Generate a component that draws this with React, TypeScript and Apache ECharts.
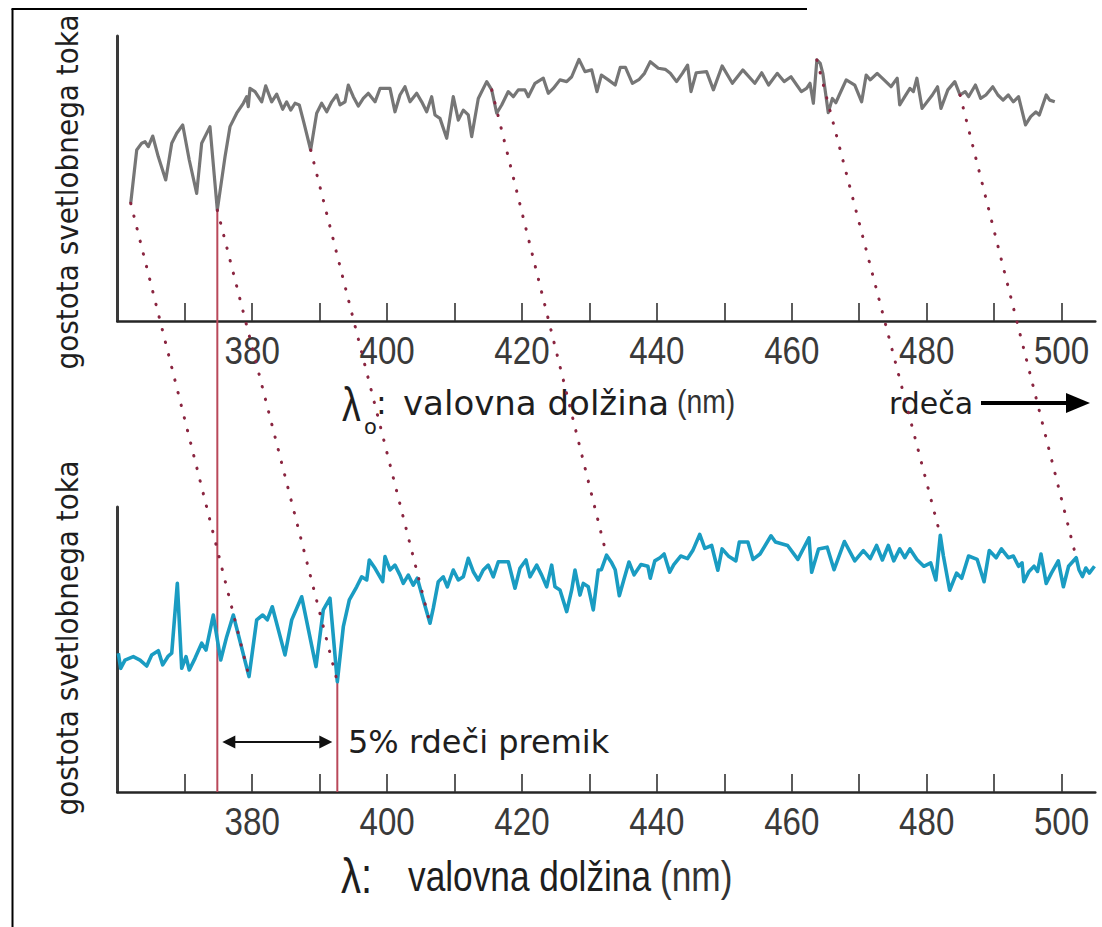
import React, { useEffect, useRef } from 'react';
import * as echarts from 'echarts';

// ---------- data ----------
// wavelength axis ticks / labels (nm)
const tickValues = [370, 380, 390, 400, 410, 420, 430, 440, 450, 460, 470, 480, 490, 500];
const labelValues = [380, 400, 420, 440, 460, 480, 500];

// rest-frame spectrum (top, grey): [wavelength nm, relative flux]
const restSpectrum: [number, number][] = [
  [361.99, 41.3], [362.88, 60.0], [363.62, 62.4], [364.11, 62.9], [364.6, 61.2], [365.25, 64.9], [366.08, 57.6], [367.18, 49.5],
  [368.07, 62.4], [368.81, 65.9], [369.7, 68.8], [370.67, 56.5], [371.77, 44.8], [372.51, 62.4], [373.74, 68.2], [374.83, 38.9],
  [375.97, 57.6], [376.71, 68.2], [377.7, 72.9], [378.68, 76.4], [379.18, 78.7], [379.42, 75.2], [379.67, 81.6], [380.42, 80.5],
  [381.41, 76.9], [382.0, 82.5], [382.89, 76.9], [383.63, 79.6], [384.52, 74.3], [385.11, 76.9], [385.71, 74.0], [386.35, 76.4],
  [386.98, 75.8], [387.68, 69.4], [388.67, 60.0], [389.56, 72.9], [390.3, 76.4], [391.05, 73.4], [391.79, 76.9], [392.53, 79.3],
  [393.02, 75.8], [393.76, 76.9], [394.25, 82.8], [394.99, 78.7], [395.73, 75.4], [396.47, 78.1], [397.21, 79.9], [398.21, 76.9],
  [398.95, 81.6], [400.43, 81.6], [401.17, 73.4], [401.91, 79.3], [402.65, 82.2], [403.4, 76.9], [404.39, 79.9], [405.13, 76.9],
  [405.87, 73.4], [406.61, 78.7], [407.1, 72.3], [407.84, 71.1], [408.84, 64.1], [409.81, 78.7], [410.56, 70.5], [411.3, 74.0],
  [412.04, 72.3], [412.54, 64.7], [413.52, 78.1], [414.77, 84.0], [415.51, 81.1], [416.25, 72.9], [416.99, 75.8], [417.97, 80.5],
  [418.71, 78.7], [419.45, 81.1], [420.44, 81.1], [420.93, 78.7], [421.93, 83.4], [423.16, 85.2], [423.9, 79.9], [424.64, 81.6],
  [425.63, 84.6], [426.63, 84.0], [427.37, 85.7], [428.45, 91.8], [429.34, 87.5], [430.33, 88.1], [431.12, 80.5], [431.77, 86.3],
  [432.8, 84.6], [433.82, 82.8], [434.57, 89.0], [435.34, 89.0], [436.37, 83.4], [437.39, 84.8], [438.16, 86.9], [439.02, 91.0],
  [440.21, 88.7], [441.23, 88.3], [441.99, 86.9], [442.92, 84.0], [443.78, 86.9], [444.55, 89.8], [445.06, 80.5], [445.83, 87.1],
  [447.37, 87.5], [448.38, 81.1], [449.67, 89.5], [451.19, 83.4], [452.74, 88.1], [454.51, 83.4], [455.54, 87.1], [456.56, 82.8],
  [457.84, 86.9], [458.86, 84.0], [459.88, 85.7], [461.42, 80.5], [462.19, 81.6], [462.7, 83.4], [463.2, 76.4], [463.72, 91.6],
  [464.22, 90.4], [464.6, 86.9], [465.41, 73.1], [466.02, 78.1], [466.54, 76.6], [467.04, 79.3], [468.07, 84.6], [469.34, 82.8],
  [470.36, 76.9], [471.03, 86.3], [471.64, 84.6], [472.66, 86.9], [473.68, 84.6], [474.71, 82.2], [475.63, 85.2], [476.0, 75.8],
  [476.75, 78.7], [477.52, 81.6], [478.03, 80.5], [478.55, 85.2], [479.32, 74.6], [480.84, 79.3], [481.61, 82.2], [482.12, 74.6],
  [483.14, 81.1], [484.17, 84.0], [484.94, 79.3], [485.71, 80.5], [486.21, 78.7], [487.23, 82.8], [488.0, 78.1], [488.78, 79.3],
  [489.8, 82.2], [490.56, 79.3], [491.33, 77.5], [492.1, 79.3], [492.85, 76.9], [493.62, 78.7], [494.65, 68.8], [495.42, 71.7],
  [496.19, 73.4], [496.7, 72.3], [497.72, 79.3], [498.24, 77.5], [498.99, 76.9],
];

// observed, redshifted spectrum (bottom, cyan): [wavelength nm, relative flux]
const observedSpectrum: [number, number][] = [
  [360.15, 48.7], [360.5, 43.4], [361.14, 46.3], [362.37, 47.5], [363.37, 46.3], [364.36, 44.2], [365.1, 48.1], [366.08, 49.6],
  [366.73, 44.6], [367.56, 47.7], [368.07, 48.7], [368.9, 73.2], [369.55, 43.4], [370.19, 47.5], [370.67, 42.8], [371.52, 46.9],
  [372.51, 52.2], [373.15, 49.8], [374.23, 62.1], [375.33, 46.3], [376.22, 54.5], [377.2, 62.1], [379.53, 40.5], [380.67, 60.4],
  [381.56, 62.1], [382.24, 60.4], [382.98, 65.0], [384.86, 48.1], [385.86, 60.4], [387.34, 68.5], [389.46, 44.0], [390.54, 63.9],
  [391.53, 68.0], [392.62, 38.7], [393.51, 58.0], [394.4, 67.4], [395.49, 72.0], [396.23, 75.5], [396.98, 74.4], [397.36, 81.4],
  [398.21, 78.5], [399.35, 73.8], [399.69, 82.6], [400.43, 77.9], [401.17, 79.6], [401.91, 76.1], [402.4, 73.2], [403.14, 76.1],
  [403.88, 72.6], [404.48, 75.0], [405.37, 67.4], [406.36, 59.2], [406.85, 64.5], [407.59, 73.8], [408.33, 75.5], [408.93, 72.0],
  [409.81, 77.9], [410.56, 74.4], [411.3, 75.5], [412.04, 82.0], [412.78, 77.3], [413.52, 74.4], [414.26, 77.9], [415.0, 79.6],
  [415.74, 75.5], [416.49, 80.8], [417.97, 80.8], [418.96, 71.5], [419.7, 78.5], [420.59, 81.4], [421.19, 75.5], [422.18, 79.6],
  [422.92, 76.1], [423.66, 72.0], [424.4, 79.6], [424.89, 72.0], [425.63, 70.9], [426.63, 63.3], [427.37, 70.9], [427.86, 77.9],
  [428.6, 69.1], [429.09, 73.2], [429.83, 72.0], [430.57, 63.9], [431.31, 77.9], [431.77, 78.0], [432.54, 83.1], [433.3, 80.4],
  [433.82, 78.0], [434.43, 68.9], [435.09, 74.4], [435.86, 80.7], [436.62, 76.2], [437.64, 79.8], [438.67, 79.2], [439.02, 75.0],
  [439.69, 81.1], [440.46, 82.2], [441.07, 83.5], [441.9, 77.1], [442.51, 79.8], [443.53, 82.8], [444.55, 81.9], [445.32, 84.7],
  [446.35, 90.4], [447.1, 85.5], [448.12, 86.5], [449.04, 77.8], [449.67, 85.3], [450.69, 82.6], [451.71, 81.1], [452.22, 87.7],
  [453.49, 87.7], [454.26, 81.6], [455.29, 83.5], [456.92, 89.9], [457.58, 87.7], [459.38, 86.5], [460.9, 81.6], [462.55, 89.2],
  [462.95, 77.1], [463.97, 85.3], [465.25, 85.9], [466.27, 78.0], [467.81, 87.9], [469.34, 81.1], [470.61, 84.7], [471.64, 81.9],
  [472.57, 86.5], [473.43, 81.4], [474.31, 86.5], [475.12, 81.1], [476.0, 85.3], [476.75, 82.2], [477.52, 85.3], [478.55, 81.6],
  [479.57, 79.2], [480.59, 80.4], [481.36, 74.4], [482.02, 90.1], [482.48, 82.8], [483.41, 70.8], [484.43, 76.8], [485.19, 75.0],
  [486.21, 82.8], [487.49, 81.6], [488.51, 73.8], [489.28, 84.7], [490.3, 82.2], [491.08, 85.3], [492.1, 82.2], [492.85, 82.8],
  [493.62, 79.2], [494.14, 80.4], [494.4, 73.8], [495.17, 77.4], [495.92, 79.2], [496.44, 77.4], [496.95, 83.5], [497.72, 73.2],
  [498.49, 76.8], [499.51, 81.1], [500.27, 72.0], [501.04, 79.2], [502.17, 82.2], [502.58, 78.0], [503.09, 75.6], [503.6, 78.6],
  [504.11, 76.8], [504.88, 79.2],
];

// features linked by the dotted lines: rest wavelength/flux -> observed wavelength/flux
const shiftRestLambda = [361.99, 374.83, 388.67, 415.51, 463.72, 484.94];
const shiftRestFlux = [41.3, 38.9, 60.0, 81.1, 91.6, 79.3];
const shiftObsLambda = [379.53, 392.62, 406.36, 432.54, 482.02, 502.17];
const shiftObsFlux = [40.5, 38.7, 59.2, 83.1, 90.1, 82.2];

// the feature marked with the solid red lines
const markRestLambda = 374.83;
const markRestFlux = 38.9;
const markObsLambda = 392.62;
const markObsFlux = 38.7;

const X_MIN = 360;
const X_MAX = 505;

// ---------- layout / style ----------
const W = 1102;
const H = 927;
const GRID_LEFT = 117.3;
const GRID_W = 978;
const GRID_H = 285;
const TOP_TOP = 36;
const BOT_TOP = 507;

const ARIAL = "'Liberation Sans', Arial, sans-serif";
const SANS = "'DejaVu Sans', 'Noto Sans', sans-serif";
const COND = "'DejaVu Sans Condensed', 'DejaVu Sans', sans-serif";

const GREY = '#767676';
const CYAN = '#1a9cc2';
const RED = '#b9485a';
const DOT = '#8a2540';
const INK = '#1e1e1e';

export default function App() {
  const ref = useRef<HTMLDivElement>(null);

  useEffect(() => {
    if (!ref.current) return;
    const chart = echarts.init(ref.current, null, { renderer: 'svg', width: W, height: H });

    const xAxis = (idx: number) => ({
      type: 'value',
      gridIndex: idx,
      min: X_MIN,
      max: X_MAX,
      interval: 10,
      axisLine: { show: true, onZero: false, lineStyle: { color: '#262626', width: 2.5 } },
      axisTick: {
        show: true,
        inside: true,
        length: 18,
        customValues: tickValues,
        lineStyle: { color: '#333', width: 1.6 },
      },
      axisLabel: { show: false },
      splitLine: { show: false },
    });
    const yAxis = (idx: number) => ({
      type: 'value',
      gridIndex: idx,
      min: 0,
      max: 100,
      axisLine: { show: true, lineStyle: { color: '#3a3a3a', width: 3 } },
      axisTick: { show: false },
      axisLabel: { show: false },
      splitLine: { show: false },
    });

    chart.setOption({
      animation: false,
      backgroundColor: '#ffffff',
      grid: [
        { left: GRID_LEFT, top: TOP_TOP, width: GRID_W, height: GRID_H },
        { left: GRID_LEFT, top: BOT_TOP, width: GRID_W, height: GRID_H },
      ],
      xAxis: [xAxis(0), xAxis(1)],
      yAxis: [yAxis(0), yAxis(1)],
      series: [
        {
          type: 'line',
          xAxisIndex: 0,
          yAxisIndex: 0,
          data: restSpectrum,
          symbol: 'none',
          lineStyle: { color: GREY, width: 3.2, join: 'round' },
          z: 5,
        },
        {
          type: 'line',
          xAxisIndex: 1,
          yAxisIndex: 1,
          data: observedSpectrum,
          symbol: 'none',
          lineStyle: { color: CYAN, width: 3.6, join: 'round' },
          z: 5,
        },
      ],
    });

    const px = (g: number, x: number, y: number) =>
      chart.convertToPixel({ gridIndex: g }, [x, y]) as number[];

    const elements: any[] = [];

    // frame
    elements.push({ type: 'line', shape: { x1: 12.5, y1: 9, x2: 12.5, y2: H }, style: { stroke: '#000', lineWidth: 2 }, silent: true });
    elements.push({ type: 'line', shape: { x1: 11.5, y1: 9, x2: 807, y2: 9 }, style: { stroke: '#000', lineWidth: 2 }, silent: true });

    // tick labels of both wavelength axes (placed by the axis scale, narrowed type)
    [0, 1].forEach((g) => {
      labelValues.forEach((v) => {
        const p = px(g, v, 0);
        elements.push({
          type: 'text', x: p[0], y: p[1] + 30, scaleX: 0.85,
          style: { text: String(v), fontFamily: ARIAL, fontSize: 39, fill: '#3a3a3a', align: 'center', verticalAlign: 'middle' },
        });
      });
    });

    // y axis names
    elements.push({
      type: 'text', x: 67, y: 192, rotation: Math.PI / 2,
      style: { text: 'gostota svetlobnega toka', fontFamily: COND, fontSize: 31, fill: INK, align: 'center', verticalAlign: 'middle' },
    });
    elements.push({
      type: 'text', x: 67, y: 638, rotation: Math.PI / 2,
      style: { text: 'gostota svetlobnega toka', fontFamily: COND, fontSize: 31, fill: INK, align: 'center', verticalAlign: 'middle' },
    });

    // red marker lines
    const r0 = px(0, markRestLambda, markRestFlux);
    const r1 = px(1, markRestLambda, 0);
    elements.push({ type: 'line', z: 3, shape: { x1: r0[0], y1: r0[1], x2: r1[0], y2: r1[1] }, style: { stroke: RED, lineWidth: 2 } });
    const o0 = px(1, markObsLambda, markObsFlux);
    const o1 = px(1, markObsLambda, 0);
    elements.push({ type: 'line', z: 3, shape: { x1: o0[0], y1: o0[1], x2: o1[0], y2: o1[1] }, style: { stroke: RED, lineWidth: 2 } });

    // dotted shift lines
    shiftRestLambda.forEach((lam, i) => {
      const a = px(0, lam, shiftRestFlux[i]);
      const b = px(1, shiftObsLambda[i], shiftObsFlux[i]);
      elements.push({
        type: 'line', z: 20,
        shape: { x1: a[0], y1: a[1], x2: b[0], y2: b[1] },
        style: { stroke: DOT, lineWidth: 3, lineDash: [0.5, 12.5], lineCap: 'round' },
      });
    });

    // double arrow for the 5% shift
    const ay = 742;
    const ax1 = r1[0] + 5;
    const ax2 = o1[0] - 5;
    elements.push({ type: 'line', shape: { x1: ax1 + 8, y1: ay, x2: ax2 - 8, y2: ay }, style: { stroke: '#111', lineWidth: 2.2 } });
    elements.push({ type: 'polygon', shape: { points: [[ax1, ay], [ax1 + 13, ay - 6.5], [ax1 + 13, ay + 6.5]] }, style: { fill: '#111' } });
    elements.push({ type: 'polygon', shape: { points: [[ax2, ay], [ax2 - 13, ay - 6.5], [ax2 - 13, ay + 6.5]] }, style: { fill: '#111' } });
    elements.push({
      type: 'text', x: 348, y: ay,
      style: { text: '5% rdeči premik', fontFamily: SANS, fontSize: 32, fill: INK, align: 'left', verticalAlign: 'middle' },
    });

    // top axis name: λo : valovna dolžina (nm)
    elements.push({ type: 'text', x: 342, y: 404, scaleX: 0.78, style: { text: 'λ', fontFamily: ARIAL, fontSize: 48, fill: INK, align: 'left', verticalAlign: 'middle' } });
    elements.push({ type: 'text', x: 364, y: 427, style: { text: 'o', fontFamily: SANS, fontSize: 21, fill: INK, align: 'left', verticalAlign: 'middle' } });
    elements.push({ type: 'text', x: 376, y: 403, style: { text: ':', fontFamily: SANS, fontSize: 32, fill: INK, align: 'left', verticalAlign: 'middle' } });
    elements.push({ type: 'text', x: 403, y: 403, style: { text: 'valovna dolžina', fontFamily: SANS, fontSize: 34, fill: INK, align: 'left', verticalAlign: 'middle' } });
    elements.push({ type: 'text', x: 677, y: 402, scaleX: 0.86, style: { text: '(nm)', fontFamily: ARIAL, fontSize: 33, fill: '#333', align: 'left', verticalAlign: 'middle' } });

    // "rdeča" with arrow
    elements.push({ type: 'text', x: 889, y: 403, style: { text: 'rdeča', fontFamily: SANS, fontSize: 30, fill: INK, align: 'left', verticalAlign: 'middle' } });
    elements.push({ type: 'line', shape: { x1: 981, y1: 403, x2: 1070, y2: 403 }, style: { stroke: '#000', lineWidth: 4 } });
    elements.push({ type: 'polygon', shape: { points: [[1066, 393], [1090, 403], [1066, 413]] }, style: { fill: '#000' } });

    // bottom axis name: λ: valovna dolžina (nm)
    elements.push({ type: 'text', x: 341, y: 876, scaleX: 0.8, style: { text: 'λ:', fontFamily: ARIAL, fontSize: 50, fill: INK, align: 'left', verticalAlign: 'middle' } });
    elements.push({ type: 'text', x: 408, y: 876, scaleX: 0.84, style: { text: 'valovna dolžina', fontFamily: ARIAL, fontSize: 42, fill: INK, align: 'left', verticalAlign: 'middle' } });
    elements.push({ type: 'text', x: 660, y: 876, scaleX: 0.84, style: { text: '(nm)', fontFamily: ARIAL, fontSize: 42, fill: '#333', align: 'left', verticalAlign: 'middle' } });

    chart.setOption({ graphic: elements });

    return () => chart.dispose();
  }, []);

  return (
    <div
      ref={ref}
      style={{ position: 'absolute', left: 0, top: 0, width: W, height: H, background: '#fff' }}
    />
  );
}
